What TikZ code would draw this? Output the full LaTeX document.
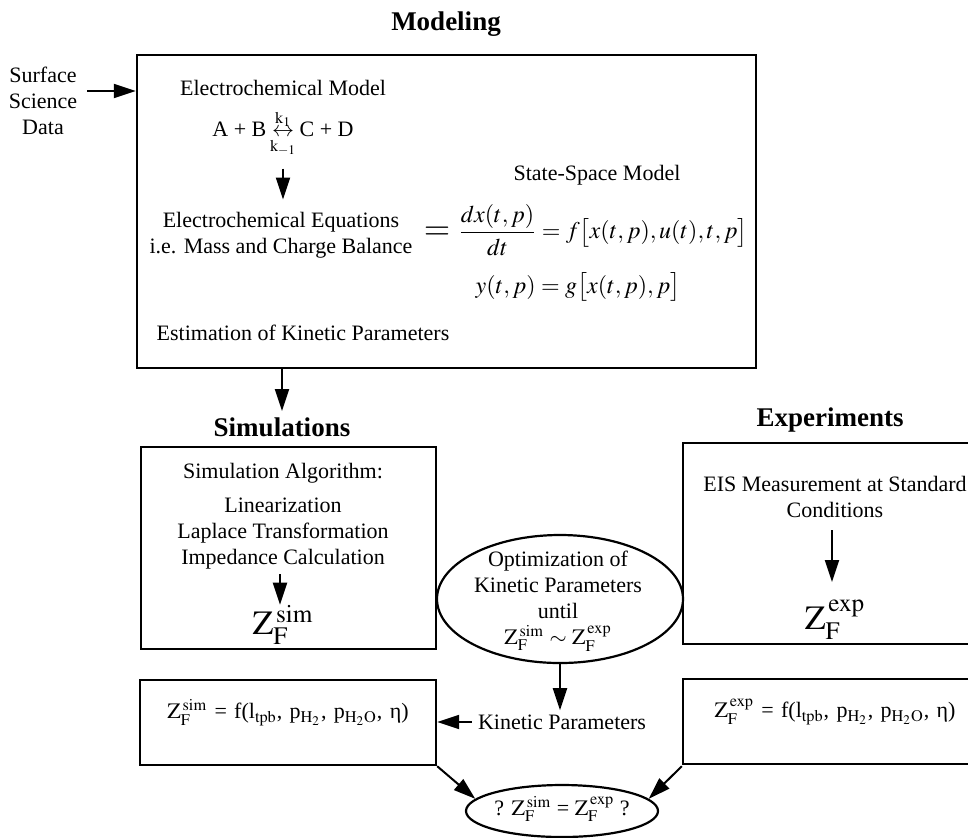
\documentclass[tikz,border=0pt]{standalone}
\usepackage{amsmath}
\usepackage{mathptmx}
\usepackage{fontspec}
\setmainfont{Liberation Serif}
\usepackage{tikz}
\usetikzlibrary{arrows.meta,fit,shapes.geometric}
\tikzset{
  box/.style={draw,line width=1.2pt,inner sep=0pt},
  oval/.style={draw,ellipse,line width=1.1pt,inner sep=0pt},
  txt/.style={font=\fontsize{11}{13}\selectfont,align=center,inner sep=0pt},
  ttl/.style={font=\fontsize{13.5}{15}\selectfont\bfseries,inner sep=0pt},
  arr/.style={line width=1pt,-{Triangle[length=11pt,width=7pt]}}
}
\newcommand{\zbig}[1]{{\fontsize{17}{19}\selectfont$\mathrm{Z}_{\mathrm{F}}^{\,\mathrm{#1}}$}}
\newcommand{\zsm}[1]{$\mathrm{Z}_{\mathrm{F}}^{\,\mathrm{#1}}$}
\newcommand{\zfun}[1]{\zsm{#1} = f(l$_{\mathrm{tpb}}$, p$_{\mathrm{H}_2}$, p$_{\mathrm{H}_2\mathrm{O}}$, η)}
\begin{document}
\begin{tikzpicture}[x=0.5pt,y=-0.5pt]
  \useasboundingbox (0,0) rectangle (968,837);
  \clip (0,0) rectangle (968,837);
  % modeling
  \node[ttl] (modttl) at (446,24) {Modeling};
  \node[box,fit={(137,55) (756,368)}] (model) {};
  \node[txt] (surf) at (43,101) {Surface\\Science\\Data};
  \coordinate (surfarr) at (87,91);
  \node[txt] (ecmodel) at (283,88) {Electrochemical Model};
  \node[txt] (reac) at (283,134) {A + B\,$\underset{\mathrm{k}_{-1}}{\overset{\mathrm{k}_1}{\leftrightarrow}}$\,C + D};
  \node[txt] (eqs) at (281,235) {Electrochemical Equations\\i.e. Mass and Charge Balance};
  \node[font=\fontsize{17}{19}\selectfont,inner sep=0pt] (eqsign) at (437,233) {$=$};
  \node[txt] (ssm) at (597,175) {State-Space Model};
  \node[txt,font=\fontsize{12}{14}\selectfont] (dxdt) at (603,230)
    {$\dfrac{dx(t,p)}{dt}=f\bigl[x(t,p),u(t),t,p\bigr]$};
  \node[txt,font=\fontsize{12}{14}\selectfont] (yeq) at (578,287) {$y(t,p)=g\bigl[x(t,p),p\bigr]$};
  \node[txt] (estim) at (303,333) {Estimation of Kinetic Parameters};
  \draw[arr] (surfarr) -- (surfarr -| model.west);
  \draw[arr,shorten <=5pt,shorten >=6pt] (reac.south) -- (reac.south |- eqs.north);
  % simulations
  \node[ttl] (simttl) at (282,427) {Simulations};
  \node[box,fit={(141,447) (436,649)}] (sim) {};
  \node[txt] (simalg) at (283,473) {Simulation Algorithm:};
  \node[txt] (simsteps) at (283,534) {Linearization\\Laplace Transformation\\Impedance Calculation};
  \node[inner sep=0pt] (zsim) at (283,625) {\zbig{sim}};
  \draw[arr] (simttl.north |- model.south) -- ([yshift=3pt]simttl.north);
  \draw[arr,shorten <=2pt] (simsteps.south -| 280,0) -- (zsim.north -| 280,0);
  % optimization
  \node[oval,minimum width=123pt,minimum height=64pt] (optim) at (560,599) {};
  \node[txt,font=\fontsize{11}{13}\selectfont] (optimtxt) at (558,601) {Optimization of\\Kinetic Parameters\\until\\\zsm{sim} $\sim$ \zsm{exp}};
  % experiments
  \node[ttl] (expttl) at (830,420) {Experiments};
  \node[box,fit={(683,443) (987,644)}] (exper) {};
  \node[txt] (eis) at (835,497) {EIS Measurement at Standard\\Conditions};
  \node[inner sep=0pt] (zexp) at (835,620) {\zbig{exp}};
  \draw[arr,shorten <=6pt,shorten >=9pt] (eis.south -| 832,0) -- (zexp.north -| 832,0);
  % parameter functions
  \node[box,fit={(140,680) (436,765)},txt] (fsim) {\zfun{sim}};
  \node[box,fit={(683,679) (987,764)},txt] (fexp) {\zfun{exp}};
  \node[txt] (kinpar) at (562,722) {Kinetic Parameters};
  \draw[arr,shorten >=2pt] (optim.south) -- (optim.south |- kinpar.north);
  \draw[arr,shorten <=3pt] (kinpar.west) -- (kinpar.west -| fsim.east);
  % comparison
  \node[oval,minimum width=96pt,minimum height=26pt] (cmp) at (562,811) {};
  \node[txt] (cmptxt) at (562,809) {? \zsm{sim} = \zsm{exp} ?};
  \draw[arr] (fsim.south east) -- (cmp.172);
  \draw[arr] (fsim.south east -| fexp.west) -- (cmp.8);
\end{tikzpicture}
\end{document}
